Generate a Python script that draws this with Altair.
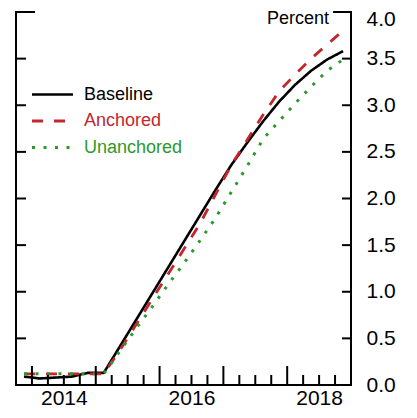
import altair as alt
import pandas as pd

FONT = "Liberation Sans"
W, H = 335, 373

# Quarterly observations (plotted at mid-quarter)
quarters = ["2013Q4",
            "2014Q1", "2014Q2", "2014Q3", "2014Q4",
            "2015Q1", "2015Q2", "2015Q3", "2015Q4",
            "2016Q1", "2016Q2", "2016Q3", "2016Q4",
            "2017Q1", "2017Q2", "2017Q3", "2017Q4",
            "2018Q1", "2018Q2", "2018Q3", "2018Q4"]

baseline = [0.09, 0.07, 0.08, 0.09, 0.13, 0.13, 0.41, 0.69, 0.97, 1.25, 1.53,
            1.81, 2.09, 2.36, 2.60, 2.83, 3.04, 3.22, 3.37, 3.49, 3.58]
anchored = [0.12, 0.12, 0.12, 0.12, 0.12, 0.12, 0.37, 0.64, 0.91, 1.18, 1.45,
            1.72, 2.04, 2.36, 2.63, 2.90, 3.15, 3.33, 3.50, 3.65, 3.80]
unanchored = [0.12, 0.12, 0.12, 0.12, 0.12, 0.12, 0.36, 0.60, 0.83, 1.07, 1.30,
              1.54, 1.79, 2.07, 2.35, 2.64, 2.83, 3.02, 3.20, 3.37, 3.49]

series_names = ["Baseline", "Anchored", "Unanchored"]
series_colors = ["#000000", "#C1272D", "#2B9A2B"]
series_dash = [[1, 0], [11, 11], [3, 8.5]]
series_width = [2.6, 3, 3]

y_tick_values = [0.0, 0.5, 1.0, 1.5, 2.0, 2.5, 3.0, 3.5, 4.0]
x_label_years = [2014, 2016, 2018]
tick_years = [2014, 2015, 2016, 2017, 2018]


def qdec(q, mid=True):
    y, n = q.split("Q")
    return int(y) + (int(n) - 1) * 0.25 + (0.125 if mid else 0.0)


rows = []
for name, vals in zip(series_names, [baseline, anchored, unanchored]):
    for q, v in zip(quarters, vals):
        rows.append({"t": qdec(q), "value": v, "series": name})
df = pd.DataFrame(rows)

x_scale = alt.Scale(domain=[2013.75, 2019.0], nice=False, zero=False)
y_scale = alt.Scale(domain=[0, 4], nice=False, zero=True)

lines = alt.Chart(df).mark_line(strokeCap="butt", strokeJoin="round").encode(
    x=alt.X("t:Q", scale=x_scale,
            axis=alt.Axis(values=[y + 0.5 for y in x_label_years],
                          labelExpr="floor(datum.value)",
                          ticks=False, domain=False, grid=False,
                          labelFontSize=21, labelFont=FONT, labelColor="black",
                          labelPadding=2, labelFlush=False, title=None)),
    y=alt.Y("value:Q", scale=y_scale,
            axis=alt.Axis(orient="right", values=y_tick_values, format=".1f",
                          ticks=False, domain=False, grid=False,
                          labelFontSize=21, labelFont=FONT, labelColor="black",
                          labelOffset={"condition": {"test": "datum.value >= 4", "value": 7.5}, "value": 0},
                          labelPadding=15, labelFlush=False, title=None)),
    color=alt.Color("series:N", scale=alt.Scale(domain=series_names, range=series_colors), legend=None),
    strokeDash=alt.StrokeDash("series:N", scale=alt.Scale(domain=series_names, range=series_dash), legend=None),
    strokeWidth=alt.StrokeWidth("series:N", scale=alt.Scale(domain=series_names, range=series_width), legend=None),
    detail="series:N",
)

# Frame
frame_style = dict(color="black", strokeWidth=2)
left_line = alt.Chart().mark_rule(**frame_style).encode(x=alt.value(0), y=alt.value(0), y2=alt.value(H))
right_line = alt.Chart().mark_rule(**frame_style).encode(x=alt.value(W), y=alt.value(0), y2=alt.value(H))
bottom_line = alt.Chart().mark_rule(**frame_style).encode(x=alt.value(-1), x2=alt.value(W + 1), y=alt.value(H))

# Y ticks (inward)
ytick_df = pd.DataFrame({"v": y_tick_values[1:-1]})
ytop_df = pd.DataFrame({"v": y_tick_values[-1:]})
yt_left = alt.Chart(ytick_df).mark_rule(**frame_style).encode(
    x=alt.value(0), x2=alt.value(10), y=alt.Y("v:Q", scale=y_scale))
yt_right = alt.Chart(ytick_df).mark_rule(**frame_style).encode(
    x=alt.value(W - 9), x2=alt.value(W), y=alt.Y("v:Q", scale=y_scale))
ytop_left = alt.Chart(ytop_df).mark_rule(**frame_style).encode(
    x=alt.value(-1), x2=alt.value(19), y=alt.Y("v:Q", scale=y_scale))
ytop_right = alt.Chart(ytop_df).mark_rule(**frame_style).encode(
    x=alt.value(W - 18), x2=alt.value(W + 1), y=alt.Y("v:Q", scale=y_scale))

# X ticks (inward): long at year starts, short at other quarters
major_df = pd.DataFrame({"t": [float(y) for y in tick_years]})
minor_df = pd.DataFrame({"t": [y + f for y in tick_years for f in (0.25, 0.5, 0.75)]})
xt_major = alt.Chart(major_df).mark_rule(**frame_style).encode(
    x=alt.X("t:Q", scale=x_scale), y=alt.value(H - 19), y2=alt.value(H))
xt_minor = alt.Chart(minor_df).mark_rule(**frame_style).encode(
    x=alt.X("t:Q", scale=x_scale), y=alt.value(H - 10), y2=alt.value(H))

# Legend
legend_layers = []
legend_y = [82.5, 109, 135.5]
for name, col, dash, sw, ly in zip(series_names, series_colors, series_dash, series_width, legend_y):
    legend_layers.append(
        alt.Chart().mark_rule(color=col, strokeDash=dash, strokeWidth=sw, strokeCap="butt").encode(
            x=alt.value(16), x2=alt.value(57), y=alt.value(ly)))
    legend_layers.append(
        alt.Chart().mark_text(text=name, color=col, font=FONT, fontSize=18,
                              align="left", baseline="middle").encode(
            x=alt.value(68), y=alt.value(ly)))

percent = alt.Chart().mark_text(text="Percent", color="black", font=FONT, fontSize=18,
                                align="right", baseline="alphabetic").encode(
    x=alt.value(W - 22), y=alt.value(12))

chart = alt.layer(
    lines, left_line, right_line, bottom_line,
    yt_left, yt_right, ytop_left, ytop_right, xt_major, xt_minor,
    *legend_layers, percent
).properties(
    width=W, height=H,
    padding={"left": 8, "top": 4, "right": 58, "bottom": 25},
    autosize=alt.AutoSizeParams(type="none"),
    background="white",
).configure_view(stroke=None)

chart.save("out.html", embed_options={"renderer": "svg", "actions": False})
